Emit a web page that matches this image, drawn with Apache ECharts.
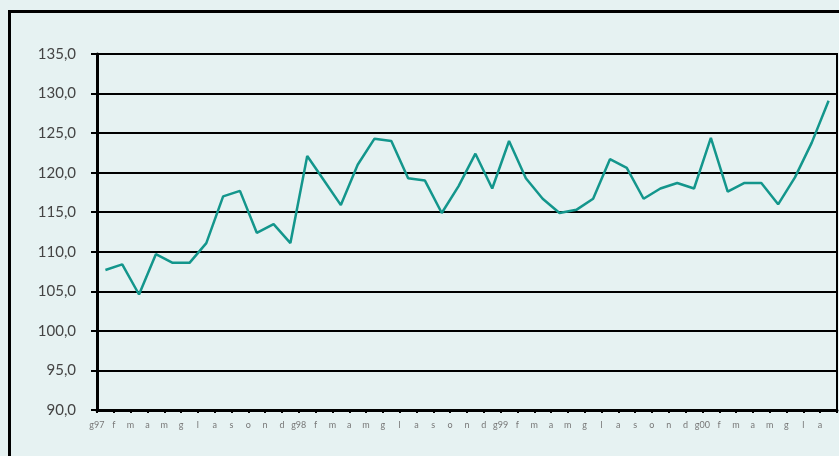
<!DOCTYPE html>
<html>
<head>
<meta charset="utf-8">
<script src="https://cdn.jsdelivr.net/npm/echarts@6/dist/echarts.min.js"></script>
<style>
html,body{margin:0;padding:0;background:#E6F2F2;}
#c{width:839px;height:456px;}
</style>
</head>
<body>
<div id="c"></div>
<script>
const categories = ['g97','f','m','a','m','g','l','a','s','o','n','d',
  'g98','f','m','a','m','g','l','a','s','o','n','d',
  'g99','f','m','a','m','g','l','a','s','o','n','d',
  'g00','f','m','a','m','g','l','a'];
const values = [107.7,108.4,104.6,109.7,108.6,108.6,111.1,117.0,117.7,112.4,113.5,111.1,
  122.1,119.0,115.9,121.0,124.3,124.0,119.3,119.0,114.9,118.3,122.4,118.0,
  124.0,119.3,116.7,114.9,115.3,116.7,121.7,120.6,116.7,118.0,118.7,118.0,
  124.4,117.6,118.7,118.7,116.0,119.4,123.8,129.1];
const yMin = 90, yMax = 135, yStep = 5;

const chart = echarts.init(document.getElementById('c'), null, {renderer:'canvas'});
chart.setOption({
  backgroundColor: '#E6F2F2',
  animation: false,
  graphic: [{
    type: 'rect',
    shape: {x: 9.5, y: 11.5, width: 900, height: 500},
    style: {fill: 'none', stroke: '#000', lineWidth: 3},
    z: 0
  }],
  grid: {left: 97, right: 2, top: 54, bottom: 46, show: true,
         borderColor: '#000', borderWidth: 2, backgroundColor: 'transparent'},
  xAxis: {
    type: 'category',
    data: categories,
    boundaryGap: true,
    axisLine: {lineStyle: {color: '#000', width: 3}},
    axisTick: {show: true, length: 3, lineStyle: {color: '#000', width: 2}},
    axisLabel: {interval: 0, fontSize: 9, color: '#777', margin: 11,
                fontFamily: 'Lato, "DejaVu Sans", sans-serif',
                padding: [0, 17, 0, 0]}
  },
  yAxis: {
    type: 'value',
    min: yMin, max: yMax, interval: yStep,
    axisLine: {show: true, lineStyle: {color: '#000', width: 3}},
    axisTick: {show: true, length: 6, lineStyle: {color: '#000', width: 2}},
    splitLine: {show: true, lineStyle: {color: '#000', width: 2}},
    axisLabel: {fontSize: 15, color: '#444', margin: 21,
                fontFamily: 'Lato, "DejaVu Sans", sans-serif',
                formatter: v => v.toFixed(1).replace('.', ',')}
  },
  series: [{
    type: 'line',
    data: values,
    symbol: 'none',
    lineStyle: {color: '#13968C', width: 2.5},
    z: 5
  }]
});
</script>
</body>
</html>
